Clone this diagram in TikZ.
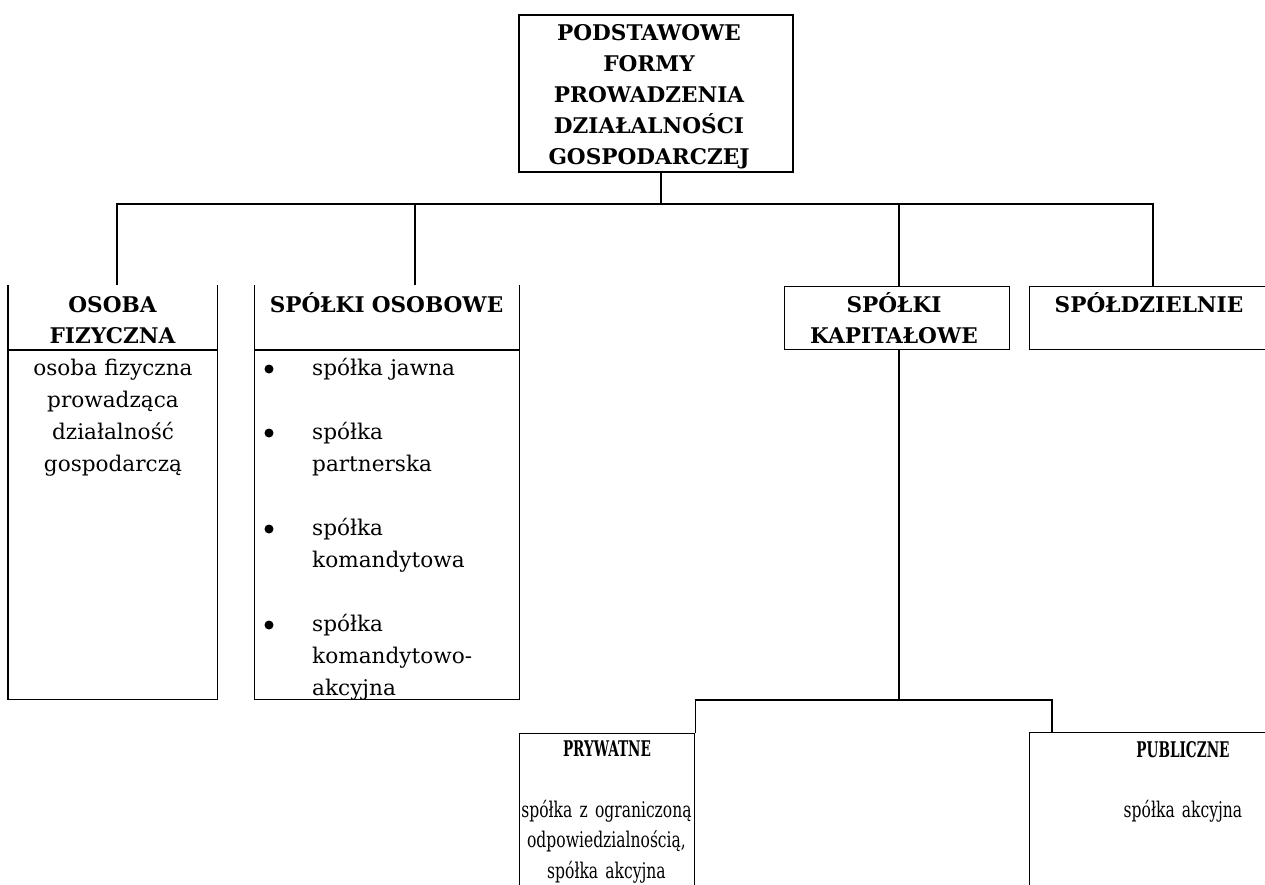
\documentclass[tikz,border=0pt]{standalone}
\usepackage{fontspec}
\setmainfont{DejaVu Serif}
\newfontfamily\narrowserif[FakeStretch=0.72,WordSpace=0.72]{DejaVu Serif}
\newfontfamily\narrowbold[FakeStretch=0.63]{DejaVu Serif}
\newcommand\boxhead{\fontsize{21.6}{31}\selectfont\bfseries}
\newcommand\boxbody{\fontsize{21.6}{32}\selectfont}
\newcommand\lowhead{\narrowbold\fontsize{21.6}{31}\selectfont\bfseries}
\newcommand\lowbody{\narrowserif\fontsize{21.6}{30.5}\selectfont}
\tikzset{
  cell/.style={draw, line width=1.2pt, inner sep=0pt},
  slot/.style={inner sep=0pt},
  wire/.style={line width=1.2pt},
  wirebold/.style={line width=2pt},
  bullet/.style={circle, fill, inner sep=0pt, minimum size=9pt},
  headtext/.style={font=\boxhead, align=center, text width=#1, inner sep=0pt, anchor=base},
  bodytext/.style={font=\boxbody, align=center, text width=#1, inner sep=0pt, anchor=base},
}
\begin{document}
\begin{tikzpicture}[x=1pt,y=-1pt]
\useasboundingbox[fill=white] (0,0) rectangle (1265,885);

\node[cell, minimum width=274pt, minimum height=157pt] (root) at (656,93.5) {};
\node[slot, minimum width=209pt, minimum height=414pt, anchor=north west] (fiz) at (8,285) {};
\node[slot, minimum width=264.5pt, minimum height=414pt, anchor=north west] (osob) at (254.5,285) {};
\node[cell, minimum width=225pt, minimum height=63pt, anchor=north west] (kap) at (784,286) {};
\node[cell, minimum width=260pt, minimum height=63pt, anchor=north west] (spol) at (1029,286) {};
\node[cell, minimum width=175pt, minimum height=170pt, anchor=north west] (pryw) at (519,733) {};
\node[cell, minimum width=320pt, minimum height=170pt, anchor=north west] (publ) at (1029,732) {};

\draw[wire] (fiz.north west) |- (fiz.south east) -- (fiz.north east);
\draw[wire] ([yshift=-65pt]fiz.north west) -- ([yshift=-65pt]fiz.north east);
\draw[wire] (osob.north west) |- (osob.south east) -- (osob.north east);
\draw[wire] ([yshift=-65pt]osob.north west) -- ([yshift=-65pt]osob.north east);

\coordinate (bus) at (661,204);
\coordinate (fork) at (899,700);
\draw[wire] ([xshift=5pt]root.south) -- (bus);
\draw[wire] (bus) -| ([xshift=109pt]fiz.north west);
\draw[wire] ([xshift=160.5pt]osob.north west) |- (bus);
\draw[wirebold] (bus) -| ([xshift=124pt]spol.north west);
\draw[wire] ([xshift=115pt]kap.north west) -- ++(0,-82);
\draw[wire] ([xshift=115pt]kap.south west) -- (fork);
\draw[wire] (fork) -| (pryw.north east);
\draw[wirebold] (fork) -| ([xshift=23pt]publ.north west);

\node[headtext=270pt] (rootT) at (649,40.7) {PODSTAWOWE\\FORMY\\PROWADZENIA\\DZIAŁALNOŚCI\\GOSPODARCZEJ};
\node[headtext=200pt] (fizT) at (112.5,312.7) {OSOBA\\FIZYCZNA};
\node[bodytext=200pt] (fizB) at (113,375) {osoba fizyczna\\prowadząca\\działalność\\gospodarczą};
\node[headtext=260pt] (osobT) at (386.5,312.7) {SPÓŁKI OSOBOWE};
\foreach \y/\t [count=\i] in {375/{spółka jawna}, 439/{spółka\\partnerska}, 535/{spółka\\komandytowa}, 631/{spółka\\komandytowo-\\akcyjna}} {
  \node[bodytext=200pt, align=left, anchor=base west] (item\i) at (312,\y) {\t};
  \node[bullet] (dot\i) at (269,\y-6) {};
}
\node[headtext=220pt] (kapT) at (894,312.7) {SPÓŁKI\\KAPITAŁOWE};
\node[headtext=230pt] (spolT) at (1149,312.7) {SPÓŁDZIELNIE};
\node[headtext=170pt, font=\lowhead] (prywT) at (607,756) {PRYWATNE};
\node[bodytext=210pt, font=\lowbody] (prywB) at (606.5,817) {spółka z ograniczoną\\odpowiedzialnością,\\spółka akcyjna};
\node[headtext=200pt, font=\lowhead] (publT) at (1183,757) {PUBLICZNE};
\node[bodytext=200pt, font=\lowbody] (publB) at (1183,817) {spółka akcyjna};
\end{tikzpicture}
\end{document}
